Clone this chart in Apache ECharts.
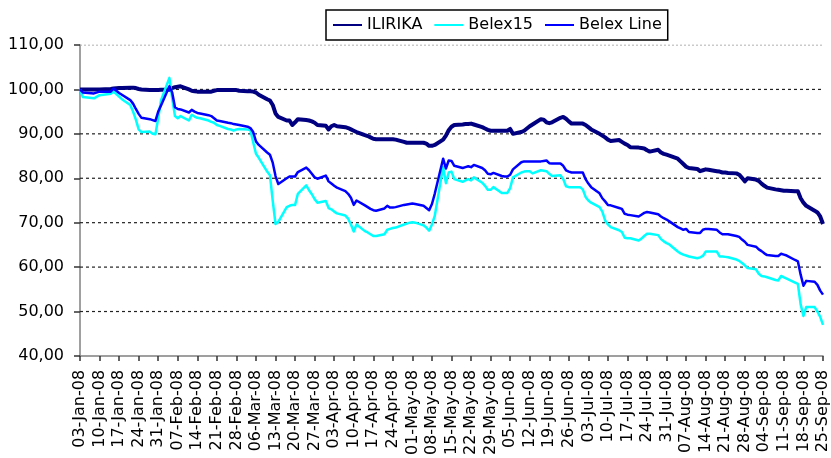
<!DOCTYPE html>
<html>
<head>
<meta charset="utf-8">
<script src="https://cdn.jsdelivr.net/npm/echarts@6/dist/echarts.min.js"></script>
<style>
html,body{margin:0;padding:0;background:#fff;}
#chart{width:831px;height:458px;}
</style>
</head>
<body>
<div id="chart"></div>
<script>
const YEAR = 2008;
const seriesNames = ['ILIRIKA', 'Belex15', 'Belex Line'];
const monthNames = ['Jan','Feb','Mar','Apr','May','Jun','Jul','Aug','Sep','Oct','Nov','Dec'];

const dates = [
  '01-03','01-04','01-08','01-10','01-14','01-15','01-17','01-18','01-21','01-22','01-23','01-24','01-25','01-28','01-29','01-30','01-31',
  '02-01','02-04','02-05','02-06','02-07','02-08','02-11','02-12','02-13','02-14','02-15','02-18','02-19','02-20','02-21','02-22','02-25','02-26','02-27','02-28','02-29',
  '03-03','03-04','03-05','03-06','03-07','03-10','03-11','03-12','03-13','03-14','03-17','03-18','03-19','03-20','03-21','03-24','03-25','03-26','03-27','03-28','03-31',
  '04-01','04-02','04-03','04-04','04-07','04-08','04-09','04-10','04-11','04-14','04-15','04-16','04-17','04-18','04-21','04-22','04-23','04-24','04-25','04-28','04-29','04-30',
  '05-01','05-02','05-05','05-06','05-07','05-08','05-09','05-12','05-13','05-14','05-15','05-16','05-19','05-20','05-21','05-22','05-23','05-26','05-27','05-28','05-29','05-30',
  '06-02','06-03','06-04','06-05','06-06','06-09','06-10','06-11','06-12','06-13','06-16','06-17','06-18','06-19','06-20','06-23','06-24','06-25','06-26','06-27','06-30',
  '07-01','07-02','07-03','07-04','07-07','07-08','07-09','07-10','07-11','07-14','07-15','07-16','07-17','07-18','07-21','07-22','07-23','07-24','07-25','07-28','07-29','07-30','07-31',
  '08-01','08-04','08-05','08-06','08-07','08-08','08-11','08-12','08-13','08-14','08-15','08-18','08-19','08-20','08-21','08-22','08-25','08-26','08-27','08-28','08-29',
  '09-01','09-02','09-03','09-04','09-05','09-08','09-09','09-10','09-11','09-12','09-15','09-16','09-17','09-18','09-19','09-22','09-23','09-24','09-25'
];

const ilirika = [
  100.0,100.0,100.0,100.0,100.1,100.2,100.3,100.3,100.4,100.4,100.3,100.1,100.0,99.85,99.85,99.85,99.85,
  99.9,99.95,100.3,100.5,100.6,100.7,100.0,99.7,99.6,99.5,99.5,99.5,99.5,99.7,99.85,99.85,99.85,99.85,99.85,99.85,99.7,
  99.6,99.6,99.5,99.3,98.8,97.8,97.5,96.5,94.6,93.8,93.0,93.0,92.0,92.6,93.3,93.1,93.0,92.8,92.5,92.0,91.8,
  91.0,91.7,92.0,91.7,91.5,91.3,91.0,90.7,90.4,89.7,89.5,89.2,88.9,88.8,88.8,88.8,88.8,88.8,88.7,88.2,88.0,88.0,
  88.0,88.0,88.0,87.8,87.3,87.3,87.5,88.7,89.6,90.8,91.6,92.0,92.1,92.2,92.2,92.3,92.1,91.5,91.2,90.9,90.7,90.7,
  90.7,90.7,90.7,91.1,90.0,90.4,90.7,91.2,91.7,92.1,93.3,93.2,92.6,92.4,92.6,93.6,93.8,93.4,92.8,92.3,92.3,
  92.3,92.0,91.5,91.0,90.0,89.6,89.2,88.7,88.4,88.6,88.2,87.8,87.5,87.0,86.9,86.8,86.7,86.3,86.0,86.4,85.8,85.5,85.3,
  85.1,84.4,83.8,83.2,82.6,82.3,82.1,81.6,81.8,82.0,81.9,81.6,81.5,81.3,81.3,81.2,81.1,80.8,80.1,79.3,80.0,
  79.7,79.4,78.8,78.3,77.9,77.5,77.4,77.3,77.2,77.2,77.1,77.1,75.5,74.5,73.8,72.7,72.3,71.4,69.7
];

const belex15 = [
  100.0,98.3,98.0,98.7,99.0,99.5,98.4,97.8,96.5,95.0,93.2,91.0,90.4,90.5,90.0,89.9,93.5,
  97.5,102.6,98.0,94.0,93.5,94.0,93.0,94.3,93.9,93.6,93.5,93.0,92.7,92.5,92.0,91.8,91.1,91.0,90.7,91.0,91.1,
  91.0,90.8,88.1,85.5,84.6,81.5,80.7,74.9,69.7,70.2,73.5,73.8,74.0,74.0,76.5,78.4,77.3,76.4,75.3,74.5,74.9,
  73.3,73.0,72.5,72.1,71.6,70.9,69.6,68.0,69.6,68.1,67.8,67.4,67.0,67.0,67.4,68.4,68.6,68.8,68.9,69.6,69.8,70.0,
  70.1,70.0,69.4,68.9,68.2,69.6,71.5,82.6,78.9,81.3,81.5,79.8,79.2,79.5,79.8,79.5,80.2,79.0,78.3,77.4,77.4,78.0,
  76.7,76.7,76.7,77.8,80.2,81.3,81.5,81.6,81.6,81.1,81.8,81.7,81.6,81.0,80.5,80.7,79.8,78.2,78.0,78.0,78.0,
  77.5,75.8,75.0,74.5,73.5,72.5,70.5,69.6,69.0,68.3,67.9,66.6,66.5,66.5,66.0,66.4,67.0,67.5,67.5,67.2,66.3,65.8,65.4,
  65.1,63.5,63.1,62.8,62.6,62.4,62.0,62.2,62.5,63.5,63.5,63.5,62.4,62.4,62.3,62.2,61.7,61.4,60.9,60.4,59.8,
  59.5,58.5,58.0,57.9,57.7,57.1,57.0,58.0,57.7,57.4,56.5,56.2,51.6,49.0,51.0,51.0,50.0,48.8,47.0
];

const belexLine = [
  100.0,99.3,99.1,99.5,99.5,100.2,99.2,98.8,97.6,96.8,95.6,94.5,93.6,93.3,93.1,92.9,95.0,
  96.4,100.7,99.3,96.0,95.6,95.5,94.8,95.4,95.0,94.7,94.6,94.2,94.0,93.5,93.0,92.9,92.5,92.4,92.2,92.1,92.0,
  91.6,91.3,90.4,88.3,87.5,85.8,85.3,83.5,80.5,78.7,80.0,80.4,80.4,80.4,81.4,82.4,81.8,81.0,80.2,79.9,80.6,
  79.3,78.8,78.3,77.9,77.1,76.5,75.6,74.0,75.0,73.9,73.5,73.1,72.8,72.7,73.2,73.8,73.4,73.4,73.5,74.0,74.1,74.2,
  74.3,74.2,73.8,73.3,72.8,74.2,76.5,84.4,82.2,84.0,83.9,82.8,82.3,82.5,82.7,82.5,83.0,82.3,81.8,81.0,80.9,81.2,
  80.5,80.4,80.4,80.8,82.0,83.6,83.8,83.8,83.8,83.8,83.8,83.9,84.0,83.4,83.3,83.3,82.8,81.8,81.5,81.3,81.3,
  81.3,79.8,78.8,78.0,76.6,75.5,74.8,74.0,73.9,73.3,73.1,72.0,71.8,71.7,71.4,71.8,72.2,72.4,72.3,71.9,71.4,71.0,70.7,
  70.3,69.0,68.7,68.4,68.6,67.9,67.7,67.7,68.4,68.6,68.6,68.4,67.8,67.4,67.4,67.4,67.0,66.8,66.2,65.7,65.0,
  64.6,64.0,63.6,63.1,62.7,62.5,62.5,63.0,62.8,62.6,61.6,61.3,58.3,55.8,56.9,56.7,56.0,54.7,53.8
];

const yMin = 40, yMax = 110, yStep = 10;
const firstDay = '01-03', lastDay = '09-25';

const DAY = 86400000;
function toTime(md) { const p = md.split('-').map(Number); return Date.UTC(YEAR, p[0] - 1, p[1]); }
const t0 = toTime(firstDay);
function dayIndex(md) { return Math.round((toTime(md) - t0) / DAY); }
function dayLabel(v) {
  const d = new Date(t0 + v * DAY);
  const dd = String(d.getUTCDate()).padStart(2, '0');
  return dd + '-' + monthNames[d.getUTCMonth()] + '-' + String(d.getUTCFullYear()).slice(2);
}
const xs = dates.map(dayIndex);
const xMin = 0, xMax = dayIndex(lastDay);
const pairs = vals => xs.map((x, i) => [x, vals[i]]);

// horizontal gridlines at each y tick, drawn as plain line series through the axes
const gridValues = [];
for (let v = yMin + yStep; v <= yMax; v += yStep) gridValues.push(v);
const gridSeries = gridValues.map(v => ({
  type: 'line', silent: true, symbol: 'none', z: 1, animation: false,
  data: [[xMin, v], [xMax, v]],
  emphasis: { disabled: true },
  lineStyle: v === yMax
    ? { color: '#a8a8a8', type: [2, 2], width: 1.2 }
    : { color: '#222222', type: [3, 3], width: 1.2 }
}));

const FONT = 'DejaVu Sans';
const chart = echarts.init(document.getElementById('chart'), null, { renderer: 'canvas' });
chart.setOption({
  animation: false,
  backgroundColor: '#ffffff',
  legend: {
    data: seriesNames,
    left: 326, top: 10,
    padding: [7, 6],
    itemWidth: 29, itemHeight: 14, itemGap: 11,
    borderColor: '#000', borderWidth: 1.5,
    backgroundColor: '#fff',
    itemStyle: { color: 'rgba(0,0,0,0)', borderColor: 'rgba(0,0,0,0)', borderWidth: 0 },
    textStyle: { fontFamily: FONT, fontSize: 16, color: '#000' }
  },
  grid: { left: 80, right: 4, top: 45, bottom: 97 },
  xAxis: {
    type: 'value',
    min: xMin, max: xMax, interval: 7,
    axisLine: { show: true, lineStyle: { color: '#808080', width: 1.5 } },
    axisTick: { show: true, length: 5, lineStyle: { color: '#333', width: 1.5 } },
    splitLine: { show: false },
    axisLabel: {
      rotate: 90, margin: 14, formatter: dayLabel,
      fontFamily: FONT, fontSize: 16, color: '#000',
      showMinLabel: true, showMaxLabel: true
    }
  },
  yAxis: {
    type: 'value',
    min: yMin, max: yMax, interval: yStep,
    axisLine: { show: true, lineStyle: { color: '#808080', width: 1.5 } },
    axisTick: { show: true, length: 6, lineStyle: { color: '#333', width: 1.5 } },
    splitLine: { show: false },
    axisLabel: {
      margin: 16, fontFamily: FONT, fontSize: 16, color: '#000',
      formatter: v => v.toFixed(2).replace('.', ',')
    }
  },
  series: gridSeries.concat([
    { name: seriesNames[0], type: 'line', data: pairs(ilirika), symbol: 'none',
      lineStyle: { color: '#000080', width: 4, join: 'round' }, itemStyle: { color: '#000080' }, z: 2 },
    { name: seriesNames[1], type: 'line', data: pairs(belex15), symbol: 'none',
      lineStyle: { color: '#00FFFF', width: 2.5, join: 'round' }, itemStyle: { color: '#00FFFF' }, z: 3 },
    { name: seriesNames[2], type: 'line', data: pairs(belexLine), symbol: 'none',
      lineStyle: { color: '#0000FF', width: 2.5, join: 'round' }, itemStyle: { color: '#0000FF' }, z: 4 }
  ])
});
</script>
</body>
</html>
